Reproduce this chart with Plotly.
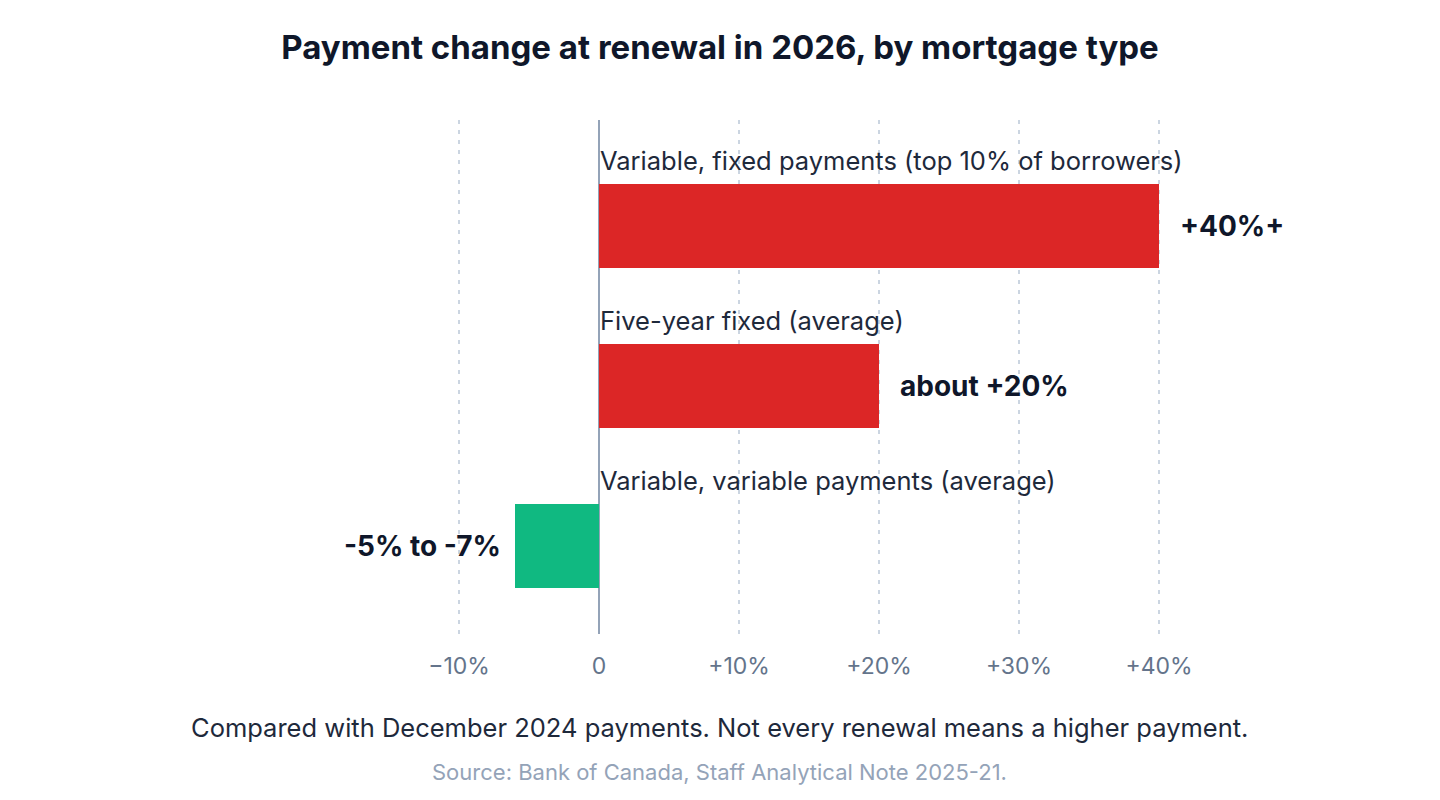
import plotly.graph_objects as go

# data
categories = [
    "Variable, fixed payments (top 10% of borrowers)",
    "Five-year fixed (average)",
    "Variable, variable payments (average)",
]
changes = [40, 20, -6]
value_labels = ["+40%+", "about +20%", "-5% to -7%"]
bar_colors = ["#dc2626", "#dc2626", "#10b981"]
tick_vals = [-10, 0, 10, 20, 30, 40]
tick_text = ["−10%", "0", "+10%", "+20%", "+30%", "+40%"]

FONT = "Inter"

fig = go.Figure()

fig.add_trace(go.Bar(
    x=changes,
    y=categories,
    orientation='h',
    marker=dict(color=bar_colors, line=dict(width=0)),
    width=0.525,
    hoverinfo='skip',
))

annotations = []
for cat, val, lab in zip(categories, changes, value_labels):
    # category label above the bar
    annotations.append(dict(
        x=0, y=cat, xref='x', yref='y',
        text=cat, showarrow=False,
        xanchor='left', yanchor='middle',
        xshift=-1, yshift=66,
        font=dict(family=FONT, size=25.5, color='#1e293b'),
    ))
    # value label at the end of the bar
    annotations.append(dict(
        x=val, y=cat, xref='x', yref='y',
        text=f"<b>{lab}</b>", showarrow=False,
        xanchor='left' if val >= 0 else 'right', yanchor='middle',
        xshift=19 if val >= 0 else -12,
        font=dict(family=FONT, size=28, color='#0f172a'),
    ))

# footnotes
annotations.append(dict(
    x=0.394, y=-0.181, xref='paper', yref='paper',
    text="Compared with December 2024 payments. Not every renewal means a higher payment.",
    showarrow=False, xanchor='center', yanchor='middle',
    font=dict(family=FONT, size=25.5, color='#1e293b'),
))
annotations.append(dict(
    x=0.394, y=-0.2685, xref='paper', yref='paper',
    text="Source: Bank of Canada, Staff Analytical Note 2025-21.",
    showarrow=False, xanchor='center', yanchor='middle',
    font=dict(family=FONT, size=22, color='#94a3b8'),
))

fig.update_layout(
    width=1424,
    height=784,
    font_family=FONT,
    showlegend=False,
    title=dict(
        text="<b>Payment change at renewal in 2026, by mortgage type</b>",
        font=dict(family=FONT, size=33, color='#0f172a'),
        x=0.5, xref='container', xanchor='center',
        y=0.9503, yref='container', yanchor='middle',
    ),
    margin=dict(l=381, r=203, t=112, b=158),
    xaxis=dict(
        range=[-15, 45],
        tickvals=tick_vals,
        ticktext=tick_text,
        showgrid=True,
        gridcolor='#cbd5e1',
        gridwidth=2,
        griddash='4px,6px',
        zeroline=True,
        zerolinecolor='#94a3b8',
        zerolinewidth=1.5,
        showline=False,
        ticks='outside',
        ticklen=11,
        tickcolor='rgba(0,0,0,0)',
        tickfont=dict(family=FONT, size=23, color='#64748b'),
        fixedrange=True,
    ),
    yaxis=dict(
        range=[2.55, -0.6625],
        showticklabels=False,
        showgrid=False,
        zeroline=False,
        fixedrange=True,
    ),
    annotations=annotations,
    plot_bgcolor='white',
    paper_bgcolor='white',
)

fig.write_html("out.html")
